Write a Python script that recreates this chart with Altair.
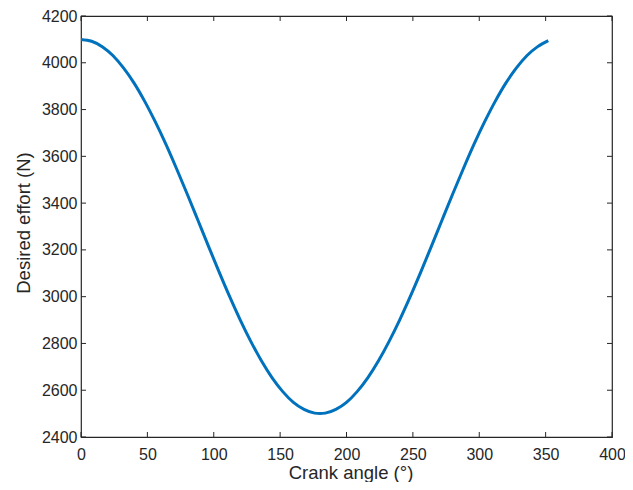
import altair as alt
import pandas as pd

angle = [0, 8, 16, 24, 32, 40, 48, 56, 64, 72, 80, 88, 96, 104, 112, 120, 128, 136, 144,
         152, 160, 168, 176, 180, 184, 192, 200, 208, 216, 224, 232, 240, 248, 256, 264, 272,
         280, 288, 296, 304, 312, 320, 328, 336, 344, 352]
effort = [4100, 4092, 4069, 4031, 3978, 3913, 3835, 3747, 3651, 3547, 3439, 3328, 3216,
          3106, 3000, 2900, 2808, 2725, 2653, 2594, 2548, 2518, 2502, 2500, 2502, 2518, 2548,
          2594, 2653, 2725, 2808, 2900, 3000, 3106, 3216, 3328, 3439, 3547, 3651, 3747,
          3835, 3913, 3978, 4031, 4069, 4095]
x_ticks = [0, 50, 100, 150, 200, 250, 300, 350, 400]
y_ticks = [2400, 2600, 2800, 3000, 3200, 3400, 3600, 3800, 4000, 4200]

W, H = 531, 421
FONT = "Liberation Sans"
AX = "#262626"

df = pd.DataFrame({"angle": angle, "effort": effort})
xt = pd.DataFrame({"x": x_ticks})
yt = pd.DataFrame({"y": y_ticks})

xs = alt.Scale(domain=[0, 400], nice=False, zero=False)
ys = alt.Scale(domain=[2400, 4200], nice=False, zero=False)

line = alt.Chart(df).mark_line(color="#0072BD", strokeWidth=3, clip=True,
                               interpolate="monotone").encode(
    x=alt.X("angle:Q", scale=xs,
            axis=alt.Axis(title="Crank angle (°)", values=x_ticks, format="d", domain=False,
                          ticks=False, grid=False, labelPadding=9, labelFontSize=16,
                          titleFontSize=18.5, labelFont=FONT, titleFont=FONT, labelColor=AX,
                          titleColor=AX, titleFontWeight="normal", titlePadding=1,
                          titleX=W / 2 + 4, labelFlush=False)),
    y=alt.Y("effort:Q", scale=ys,
            axis=alt.Axis(title="Desired effort (N)", values=y_ticks, format="d", domain=False,
                          ticks=False, grid=False, labelPadding=4, labelFontSize=16,
                          titleFontSize=18.5, labelFont=FONT, titleFont=FONT, labelColor=AX,
                          titleColor=AX, titleFontWeight="normal", titlePadding=8,
                          titleY=H / 2 - 4, labelFlush=False)),
)

TL = 5
xb = alt.Chart(xt).mark_rule(color=AX, strokeWidth=1).encode(
    x=alt.X("x:Q", scale=xs), y=alt.value(H), y2=alt.value(H - TL))
xtop = alt.Chart(xt).mark_rule(color=AX, strokeWidth=1).encode(
    x=alt.X("x:Q", scale=xs), y=alt.value(0), y2=alt.value(TL))
yl = alt.Chart(yt).mark_rule(color=AX, strokeWidth=1).encode(
    y=alt.Y("y:Q", scale=ys), x=alt.value(0), x2=alt.value(TL))
yr = alt.Chart(yt).mark_rule(color=AX, strokeWidth=1).encode(
    y=alt.Y("y:Q", scale=ys), x=alt.value(W), x2=alt.value(W - TL))

chart = alt.layer(line, xb, xtop, yl, yr).properties(
    width=W, height=H,
    autosize=alt.AutoSizeParams(type="none"),
    padding={"left": 73, "top": 8, "right": 13, "bottom": 45},
    background="white",
).configure_view(stroke=AX, strokeWidth=1.2)

chart.save("out.html", embed_options={"renderer": "svg", "actions": False})
